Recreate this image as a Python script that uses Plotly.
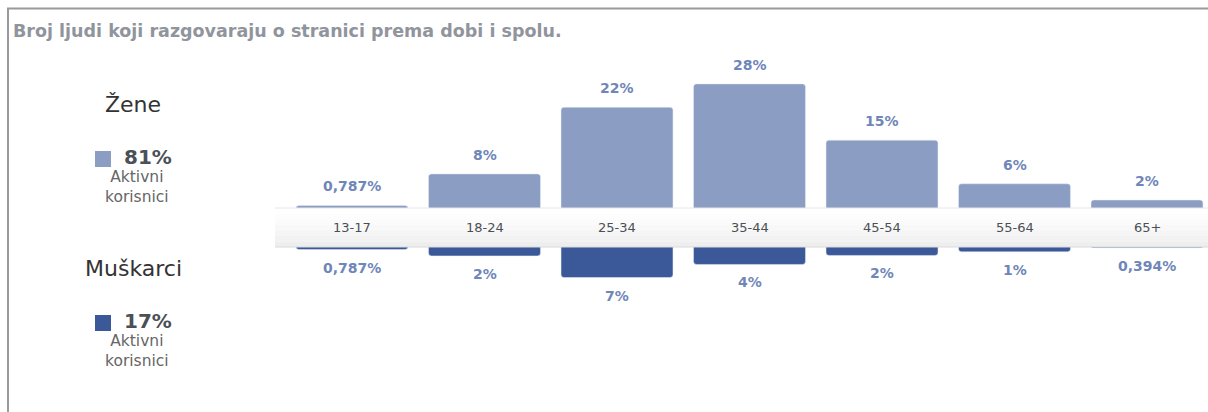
import plotly.graph_objects as go

categories = ["13-17", "18-24", "25-34", "35-44", "45-54", "55-64", "65+"]
women_values = [0.787, 7.8, 22.6, 27.8, 15.3, 5.6, 2.0]
women_labels = ["0,787%", "8%", "22%", "28%", "15%", "6%", "2%"]
men_values = [0.787, 2.2, 7.0, 4.1, 2.1, 1.3, 0.394]
men_labels = ["0,787%", "2%", "7%", "4%", "2%", "1%", "0,394%"]
title_text = "Broj ljudi koji razgovaraju o stranici prema dobi i spolu."
women_name, women_total = "Žene", "81%"
men_name, men_total = "Muškarci", "17%"
sub_label = "Aktivni<br>korisnici"

W, H = 1208, 412
WOMEN_C = "#8b9dc3"
MEN_C = "#3b5998"
LABEL_C = "#6f86b8"
FONT = "DejaVu Sans, Verdana, sans-serif"

def py(px):
    return 1 - px / H

fig = go.Figure()
fig.add_trace(go.Bar(x=categories, y=women_values, marker=dict(color=WOMEN_C, cornerradius=3),
                     xaxis="x", yaxis="y", showlegend=False, hoverinfo="skip"))
fig.add_trace(go.Bar(x=categories, y=men_values, marker=dict(color=MEN_C, cornerradius=3),
                     xaxis="x2", yaxis="y2", showlegend=False, hoverinfo="skip"))

scale = 4.5  # px per percent
top_base, top_top = 209, 40
bot_base, bot_end = 246, 405
xr = [-352 / 132.5, (W - 352) / 132.5]

annotations = []
for c, v, t in zip(categories, women_values, women_labels):
    annotations.append(dict(x=c, y=v, xref="x", yref="y", text="<b>" + t + "</b>", showarrow=False,
                            yanchor="bottom", yshift=9,
                            font=dict(family=FONT, size=14, color=LABEL_C)))
for c, v, t in zip(categories, men_values, men_labels):
    annotations.append(dict(x=c, y=v, xref="x2", yref="y2", text="<b>" + t + "</b>", showarrow=False,
                            yanchor="top", yshift=-8,
                            font=dict(family=FONT, size=14, color=LABEL_C)))
for c in categories:
    annotations.append(dict(x=c, y=py(227), xref="x", yref="paper", text=c, showarrow=False,
                            yanchor="middle", font=dict(family=FONT, size=13, color="#4b4f56")))

annotations.append(dict(x=11 / W, y=py(31), xref="paper", yref="paper", text="<b>" + title_text + "</b>",
                        showarrow=False, xanchor="left", yanchor="middle",
                        font=dict(family=FONT, size=17.5, color="#90949c")))

for name, total, color, y0 in [(women_name, women_total, WOMEN_C, 104), (men_name, men_total, MEN_C, 268)]:
    annotations.append(dict(x=133 / W, y=py(y0), xref="paper", yref="paper", text=name, showarrow=False,
                            xanchor="center", yanchor="middle",
                            font=dict(family=FONT, size=22, color="#333333")))
    annotations.append(dict(x=122 / W, y=py(y0 + 53), xref="paper", yref="paper", text="<b>" + total + "</b>",
                            showarrow=False, xanchor="left", yanchor="middle",
                            font=dict(family=FONT, size=20, color="#4b4f56")))
    annotations.append(dict(x=137 / W, y=py(y0 + 83), xref="paper", yref="paper", text=sub_label,
                            showarrow=False, xanchor="center", yanchor="middle",
                            font=dict(family=FONT, size=15.5, color="#666666")))

shapes = []
# legend squares
for color, y0 in [(WOMEN_C, 151), (MEN_C, 315)]:
    shapes.append(dict(type="rect", xref="paper", yref="paper", x0=95 / W, x1=111 / W,
                       y0=py(y0 + 16), y1=py(y0), fillcolor=color, line=dict(width=0), layer="above"))
# band with gradient
band_top, band_bot = 208, 247
strips = ["#ffffff", "#fdfdfd", "#fbfbfb", "#f8f8f8", "#f5f5f5", "#f2f2f2", "#eeeeee"]
n = len(strips)
for i, col in enumerate(strips):
    a = band_top + (band_bot - band_top) * i / n
    b = band_top + (band_bot - band_top) * (i + 1) / n
    shapes.append(dict(type="rect", xref="paper", yref="paper", x0=275 / W, x1=1,
                       y0=py(b), y1=py(a), fillcolor=col, line=dict(width=0), layer="above"))
shapes.append(dict(type="line", xref="paper", yref="paper", x0=275 / W, x1=1, y0=py(band_top), y1=py(band_top),
                   line=dict(color="#e6e6e6", width=1), layer="above"))
shapes.append(dict(type="line", xref="paper", yref="paper", x0=275 / W, x1=1, y0=py(band_bot), y1=py(band_bot),
                   line=dict(color="#dadada", width=1), layer="above"))
# frame
shapes.append(dict(type="line", xref="paper", yref="paper", x0=7 / W, x1=1, y0=py(8.5), y1=py(8.5),
                   line=dict(color="#9a9a9a", width=2), layer="above"))
shapes.append(dict(type="line", xref="paper", yref="paper", x0=8 / W, x1=8 / W, y0=0, y1=py(8),
                   line=dict(color="#9a9a9a", width=2), layer="above"))

fig.update_layout(
    width=W, height=H, margin=dict(l=0, r=0, t=0, b=0),
    paper_bgcolor="white", plot_bgcolor="white",
    bargap=0.155,
    xaxis=dict(domain=[0, 1], range=xr, visible=False, anchor="y"),
    xaxis2=dict(domain=[0, 1], range=xr, visible=False, anchor="y2", matches="x"),
    yaxis=dict(domain=[py(top_base), py(top_top)], range=[0, (top_base - top_top) / scale],
               visible=False, anchor="x"),
    yaxis2=dict(domain=[py(bot_end), py(bot_base)], range=[(bot_end - bot_base) / scale, 0],
                visible=False, anchor="x2"),
    annotations=annotations, shapes=shapes,
)

fig.write_html("out.html", config={"displayModeBar": False},
               post_script="document.body.style.margin='0px';document.body.style.overflow='hidden';")
